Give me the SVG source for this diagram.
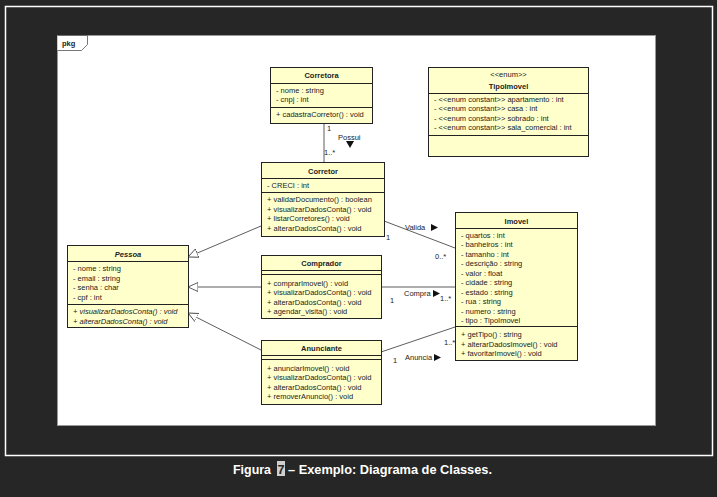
<svg xmlns="http://www.w3.org/2000/svg" width="717" height="497" viewBox="0 0 717 497">
<style>
.bg{fill:#262626}
.box{fill:#ffffcc;stroke:#222;stroke-width:1}
.dv{stroke:#222;stroke-width:1}
.t{font-family:"Liberation Sans",Arial,sans-serif;font-size:7.5px;fill:#222}
.b{font-weight:bold}
.i{font-style:italic}
.m{text-anchor:middle}
.ln{stroke:#333;stroke-width:0.8;fill:none}
.cap{font-family:"Liberation Sans",Arial,sans-serif;font-size:13px;font-weight:bold;fill:#fff}
</style>
<defs>
<marker id="gen" markerWidth="11" markerHeight="11" refX="10" refY="5" orient="auto" markerUnits="userSpaceOnUse">
<path d="M0,0.5 L10,5 L0,9.5 Z" fill="#fff" stroke="#333" stroke-width="0.8"/>
</marker>
</defs>
<rect class="bg" x="0" y="0" width="717" height="497"/>
<rect x="5.5" y="6.5" width="707" height="449" fill="none" stroke="#fff" stroke-width="1.5"/>
<rect x="57.5" y="35.5" width="598" height="390" fill="#fff" stroke="#999" stroke-width="1"/>
<g id="pkg">
<path d="M57.5,35.5 H87.5 V44.5 L81.5,50.5 H57.5" fill="#fff" stroke="#555" stroke-width="0.8"/>
<text class="t b" x="62" y="46">pkg</text>
</g>

<g id="connectors">
<line class="ln" x1="324" y1="124" x2="324" y2="162"/>
<text class="t" x="327" y="131">1</text>
<text class="t" x="324" y="155">1..*</text>
<text class="t" x="338" y="140">Possui</text>
<path d="M346,141 L354,141 L350,148 Z" fill="#111"/>

<line class="ln" x1="261" y1="226" x2="188" y2="257" marker-end="url(#gen)"/>
<line class="ln" x1="261" y1="287" x2="188" y2="287" marker-end="url(#gen)"/>
<line class="ln" x1="261" y1="350" x2="188" y2="313" marker-end="url(#gen)"/>

<line class="ln" x1="384" y1="221" x2="455" y2="248"/>
<text class="t" x="405" y="230">Valida</text>
<path d="M431,224 L438,227.5 L431,231 Z" fill="#111"/>
<text class="t" x="386" y="240">1</text>
<text class="t" x="435" y="259">0..*</text>

<line class="ln" x1="381" y1="287" x2="455" y2="287"/>
<text class="t" x="404" y="296">Compra</text>
<path d="M433,290 L440,293.5 L433,297 Z" fill="#111"/>
<text class="t" x="390" y="303">1</text>
<text class="t" x="440" y="301">1..*</text>

<line class="ln" x1="381" y1="352" x2="455" y2="327"/>
<text class="t" x="444" y="345">1..*</text>
<text class="t" x="393" y="363">1</text>
<text class="t" x="405" y="360">Anuncia</text>
<path d="M434,354 L441,357.5 L434,361 Z" fill="#111"/>
</g>

<g id="Corretora">
<rect class="box" x="270.5" y="67.5" width="102" height="56"/>
<line class="dv" x1="270.5" y1="83.5" x2="372.5" y2="83.5"/>
<line class="dv" x1="270.5" y1="107.5" x2="372.5" y2="107.5"/>
<text class="t b m" x="321.5" y="78">Corretora</text>
<text class="t" x="276" y="93">- nome : string</text>
<text class="t" x="276" y="102">- cnpj : int</text>
<text class="t" x="276" y="117">+ cadastraCorretor() : void</text>
</g>

<g id="TipoImovel">
<rect class="box" x="428.5" y="67.5" width="160" height="89"/>
<line class="dv" x1="428.5" y1="93.5" x2="588.5" y2="93.5"/>
<line class="dv" x1="428.5" y1="135.5" x2="588.5" y2="135.5"/>
<text class="t m" x="508.5" y="77">&lt;&lt;enum&gt;&gt;</text>
<text class="t b m" x="508.5" y="89">TipoImovel</text>
<text class="t" x="434" y="101.5">- &lt;&lt;enum constant&gt;&gt; apartamento : int</text>
<text class="t" x="434" y="111">- &lt;&lt;enum constant&gt;&gt; casa : int</text>
<text class="t" x="434" y="120.5">- &lt;&lt;enum constant&gt;&gt; sobrado : int</text>
<text class="t" x="434" y="130">- &lt;&lt;enum constant&gt;&gt; sala_comercial : int</text>
</g>

<g id="Corretor">
<rect class="box" x="261.5" y="162.5" width="123" height="74"/>
<line class="dv" x1="261.5" y1="178.5" x2="384.5" y2="178.5"/>
<line class="dv" x1="261.5" y1="192.5" x2="384.5" y2="192.5"/>
<text class="t b m" x="323" y="173.5">Corretor</text>
<text class="t" x="267" y="188">- CRECI : int</text>
<text class="t" x="267" y="202">+ validarDocumento() : boolean</text>
<text class="t" x="267" y="211.5">+ visualizarDadosConta() : void</text>
<text class="t" x="267" y="221">+ listarCorretores() : void</text>
<text class="t" x="267" y="230.5">+ alterarDadosConta() : void</text>
</g>

<g id="Pessoa">
<rect class="box" x="67.5" y="245.5" width="121" height="82"/>
<line class="dv" x1="67.5" y1="261.5" x2="188.5" y2="261.5"/>
<line class="dv" x1="67.5" y1="304.5" x2="188.5" y2="304.5"/>
<text class="t b i m" x="128" y="256.5">Pessoa</text>
<text class="t" x="73" y="271">- nome : string</text>
<text class="t" x="73" y="280.5">- email : string</text>
<text class="t" x="73" y="290">- senha : char</text>
<text class="t" x="73" y="299.5">- cpf : int</text>
<text class="t i" x="73" y="314">+ visualizarDadosConta() : void</text>
<text class="t i" x="73" y="323.5">+ alterarDadosConta() : void</text>
</g>

<g id="Comprador">
<rect class="box" x="261.5" y="255.5" width="120" height="63"/>
<line class="dv" x1="261.5" y1="270.5" x2="381.5" y2="270.5"/>
<line class="dv" x1="261.5" y1="274.5" x2="381.5" y2="274.5"/>
<text class="t b m" x="321.5" y="265.5">Comprador</text>
<text class="t" x="267" y="285.5">+ comprarImovel() : void</text>
<text class="t" x="267" y="295">+ visualizarDadosConta() : void</text>
<text class="t" x="267" y="304.5">+ alterarDadosConta() : void</text>
<text class="t" x="267" y="314">+ agendar_visita() : void</text>
</g>

<g id="Anunciante">
<rect class="box" x="261.5" y="340.5" width="120" height="64"/>
<line class="dv" x1="261.5" y1="355.5" x2="381.5" y2="355.5"/>
<line class="dv" x1="261.5" y1="359.5" x2="381.5" y2="359.5"/>
<text class="t b m" x="321.5" y="350.5">Anunciante</text>
<text class="t" x="267" y="370.5">+ anunciarImovel() : void</text>
<text class="t" x="267" y="380">+ visualizarDadosConta() : void</text>
<text class="t" x="267" y="389.5">+ alterarDadosConta() : void</text>
<text class="t" x="267" y="399">+ removerAnuncio() : void</text>
</g>

<g id="Imovel">
<rect class="box" x="455.5" y="212.5" width="122" height="148"/>
<line class="dv" x1="455.5" y1="228.5" x2="577.5" y2="228.5"/>
<line class="dv" x1="455.5" y1="326.5" x2="577.5" y2="326.5"/>
<text class="t b m" x="516.5" y="223.5">Imovel</text>
<text class="t" x="461" y="237.5">- quartos : int</text>
<text class="t" x="461" y="247">- banheiros : int</text>
<text class="t" x="461" y="256.5">- tamanho : int</text>
<text class="t" x="461" y="266">- descrição : string</text>
<text class="t" x="461" y="275.5">- valor : float</text>
<text class="t" x="461" y="285">- cidade : string</text>
<text class="t" x="461" y="294.5">- estado : string</text>
<text class="t" x="461" y="304">- rua : string</text>
<text class="t" x="461" y="313.5">- numero : string</text>
<text class="t" x="461" y="323">- tipo : TipoImovel</text>
<text class="t" x="461" y="337">+ getTipo() : string</text>
<text class="t" x="461" y="346.5">+ alterarDadosImovel() : void</text>
<text class="t" x="461" y="356">+ favoritarImovel() : void</text>
</g>

<g id="caption">
<text class="cap" x="233" y="474" textLength="38" lengthAdjust="spacingAndGlyphs">Figura</text>
<rect x="277" y="461" width="8" height="15" fill="#cfcfcf"/>
<text class="cap" x="277.5" y="474" style="fill:#262626" textLength="7" lengthAdjust="spacingAndGlyphs">7</text>
<text class="cap" x="288" y="474" textLength="204" lengthAdjust="spacingAndGlyphs">– Exemplo: Diagrama de Classes.</text>
</g>
</svg>
